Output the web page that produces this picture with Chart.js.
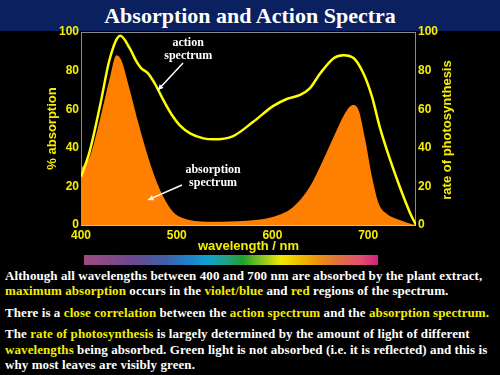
<!DOCTYPE html>
<html>
<head>
<meta charset="utf-8">
<script src="https://cdn.jsdelivr.net/npm/chart.js"></script>
<style>
html,body{margin:0;padding:0;background:#000;}
#slide{position:relative;width:500px;height:375px;overflow:hidden;background:#000;}
#title{position:absolute;left:0;top:0;width:500px;height:31px;background:#0b215f;color:#fff;font:bold 22px "Liberation Serif",serif;text-align:center;line-height:32px;}
canvas{position:absolute;left:0;top:0;}
#spectrum{position:absolute;left:84px;top:255px;width:294px;height:10px;
background:linear-gradient(to right,#a04a80 0%,#6a4a90 17%,#4060a8 28%,#2080c8 35%,#10a0d0 42%,#20a080 49%,#20a030 54%,#90c820 61%,#f0e800 67%,#f0c000 73%,#e89010 80%,#e07040 87%,#e05070 94%,#d02080 100%);}
.line{position:absolute;left:5px;white-space:nowrap;color:#fff;font:bold 13px "Liberation Serif",serif;line-height:15px;letter-spacing:0.08px;}
.y{color:#f2ee00;}
</style>
</head>
<body>
<div id="slide">
<div id="title">Absorption and Action Spectra</div>
<canvas id="canvas-spectra" width="500" height="255"></canvas>
<div id="spectrum"></div>
<div class="line" style="top:268px">Although all wavelengths between 400 and 700 nm are absorbed by the plant extract,</div>
<div class="line" style="top:283px"><span class="y">maximum absorption</span> occurs in the <span class="y">violet/blue</span> and <span class="y">red</span> regions of the spectrum.</div>
<div class="line" style="top:305px">There is a <span class="y">close correlation</span> between the <span class="y">action spectrum</span> and the <span class="y">absorption spectrum.</span></div>
<div class="line" style="top:326px">The <span class="y">rate of photosynthesis</span> is largely determined by the amount of light of different</div>
<div class="line" style="top:342px"><span class="y">wavelengths</span> being absorbed. Green light is not absorbed (i.e. it is reflected) and this is</div>
<div class="line" style="top:357px">why most leaves are visibly green.</div>
</div>
<script>
// datos
const actionWavelengths=[400,409,420,430,441,451,458,463,470,477,486,495,503,514,528,538,559,580,601,615,629,639,650,664,674,685,695,704,712,723,733,744,750]
const actionValues=[25,38,62,86,98,91.5,84.6,81.2,78.6,73.4,64.8,57,51.8,47.5,44.9,44.4,46.1,53.5,61.7,65.3,67.4,70.8,78.6,86.4,88,86.4,78.6,66.5,51,33.7,19.8,6,0]

const absorbWavelengths=[400,409,420,430,437,442,451,460,469,477,486,496,507,538,573,601,622,639,653,667,678,684,690,697,704,711,719,733,747,750]
const absorbValues=[29.5,35,55,76,88,85.5,70,52.7,37,25,14.7,6.9,3.5,1.7,2.2,4.3,9.5,19.8,33.7,49,59.6,62.2,59.6,44,25,11.2,6,2.6,0.3,0]

const xTicks=[400,500,600,700]
const yTicks=[0,20,40,60,80,100]

const yellow='#f4ee00'
const tickFont={family:'"Liberation Sans", Arial, sans-serif',size:12,weight:'bold'}
const titleFont={family:'"Liberation Sans", Arial, sans-serif',size:13,weight:'bold'}

const toPoints=(xs,ys)=>xs.map((x,i)=>({x,y:ys[i]}))

// recuadro, titulo derecho y etiquetas con flechas
const slidePlugin={
    id:'slide',
    beforeDatasetsDraw(chart){
        const {ctx,chartArea:a}=chart
        ctx.save()
        ctx.strokeStyle='#8a8a8a'
        ctx.lineWidth=1
        ctx.strokeRect(a.left+0.5,a.top+0.5,a.right-a.left-1,a.bottom-a.top)
        ctx.strokeStyle='#c8c0a8'
        ctx.beginPath()
        ctx.moveTo(a.left,a.bottom+0.5)
        ctx.lineTo(a.right,a.bottom+0.5)
        ctx.stroke()
        ctx.restore()
    },
    afterDatasetsDraw(chart){
        const {ctx,scales}=chart
        const px=v=>scales.x.getPixelForValue(v)
        const py=v=>scales.y.getPixelForValue(v)
        ctx.save()
        ctx.fillStyle='#fff'
        ctx.font='bold 12px "Liberation Serif", serif'
        ctx.textAlign='center'
        ctx.textBaseline='middle'
        ctx.fillText('action',px(512),py(94.3))
        ctx.fillText('spectrum',px(512),py(87.6))
        ctx.fillText('absorption',px(538),py(28.5))
        ctx.fillText('spectrum',px(538),py(21.8))
        const arrow=(x1,y1,x2,y2)=>{
            const ax=px(x1),ay=py(y1),bx=px(x2),by=py(y2)
            const ang=Math.atan2(by-ay,bx-ax)
            ctx.strokeStyle='#fff'
            ctx.lineWidth=1.5
            ctx.beginPath()
            ctx.moveTo(ax,ay)
            ctx.lineTo(bx,by)
            ctx.stroke()
            ctx.beginPath()
            ctx.moveTo(bx,by)
            ctx.lineTo(bx-6*Math.cos(ang-0.45),by-6*Math.sin(ang-0.45))
            ctx.lineTo(bx-6*Math.cos(ang+0.45),by-6*Math.sin(ang+0.45))
            ctx.closePath()
            ctx.fill()
        }
        arrow(506.6,83.9,480.4,69.9)
        arrow(505.5,20.7,470,13)
        // titulo del eje derecho, leido de abajo hacia arriba
        ctx.translate(447,130)
        ctx.rotate(-Math.PI/2)
        ctx.fillStyle=yellow
        ctx.font='bold 13px "Liberation Sans", Arial, sans-serif'
        ctx.fillText('rate of photosynthesis',0,0)
        ctx.restore()
    }
}

const renderSpectraChart=()=>{
    const data={
        datasets:[{
            label:'action spectrum',
            data:toPoints(actionWavelengths,actionValues),
            borderColor:'#ffff00',
            borderWidth:2.5,
            pointRadius:0,
            cubicInterpolationMode:'monotone',
            fill:false,
            order:0
        },{
            label:'absorption spectrum',
            data:toPoints(absorbWavelengths,absorbValues),
            borderWidth:0,
            borderColor:'#ff8000',
            backgroundColor:'#ff8000',
            pointRadius:0,
            cubicInterpolationMode:'monotone',
            fill:'origin',
            order:1
        }]
    }

    const options={
        responsive:false,
        maintainAspectRatio:false,
        animation:false,
        layout:{padding:{top:32,left:0,right:0,bottom:0}},
        plugins:{legend:{display:false},tooltip:{enabled:false}},
        scales:{
            x:{
                type:'linear',
                min:400,max:750,
                grid:{display:false,drawTicks:false},
                border:{display:false},
                afterBuildTicks:s=>{s.ticks=xTicks.map(value=>({value}))},
                afterFit:s=>{s.height=30},
                ticks:{color:yellow,font:tickFont,padding:3,maxRotation:0},
                title:{display:true,text:'wavelength / nm',color:yellow,font:titleFont,padding:{top:0,bottom:1}}
            },
            y:{
                position:'left',
                min:0,max:100,
                grid:{display:false,drawTicks:false},
                border:{display:false},
                afterBuildTicks:s=>{s.ticks=yTicks.map(value=>({value}))},
                afterFit:s=>{s.width=81},
                ticks:{color:yellow,font:tickFont,padding:2},
                title:{display:true,text:'% absorption',color:yellow,font:titleFont,padding:{top:45,bottom:0}}
            },
            y2:{
                position:'right',
                min:0,max:100,
                grid:{display:false,drawTicks:false},
                border:{display:false},
                afterBuildTicks:s=>{s.ticks=yTicks.map(value=>({value}))},
                afterFit:s=>{s.width=84},
                ticks:{color:yellow,font:tickFont,padding:2}
            }
        }
    }

    new Chart('canvas-spectra',{type:'line',data,options,plugins:[slidePlugin]})
}

renderSpectraChart()
</script>
</body>
</html>
